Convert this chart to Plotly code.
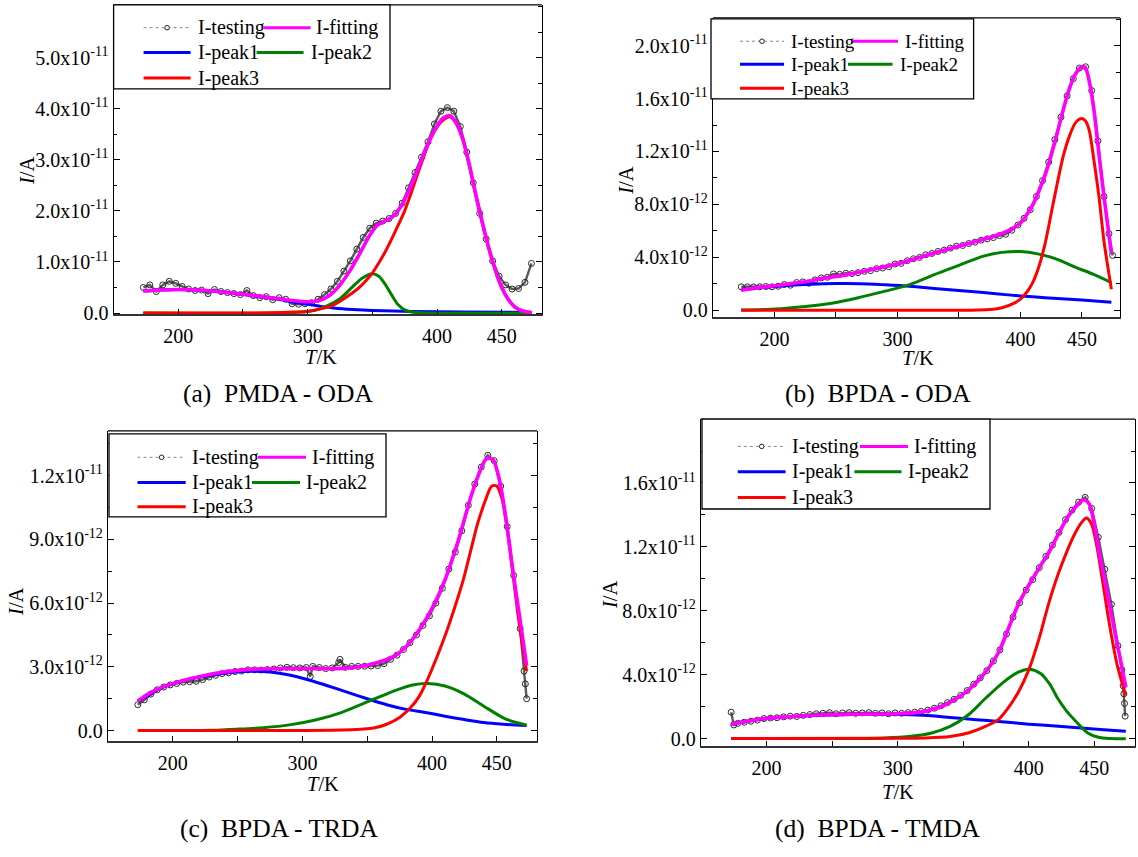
import plotly.graph_objects as go

W, H = 1138, 857
FONT = "Liberation Serif"

# ---------------- (a) PMDA - ODA  (current in units of 1e-11 A) ----------------
A_SCALE = 1e-11
A_T_TEST = [173, 178, 183, 188, 193, 198, 203, 208, 213, 218, 223, 228, 233, 238, 243, 248, 253, 258, 263, 268,
            273, 278, 283, 288, 293, 298, 303, 308, 313, 318, 323, 328, 333, 338, 343, 348, 353, 358, 363, 368,
            373, 378, 383, 388, 393, 398, 403, 408, 413, 418, 423, 428, 433, 438, 443, 448, 453, 458, 463, 468, 473]
A_TEST = [0.50, 0.55, 0.42, 0.55, 0.62, 0.58, 0.52, 0.47, 0.44, 0.45, 0.38, 0.46, 0.42, 0.40, 0.38, 0.36, 0.44, 0.34, 0.30, 0.32,
          0.26, 0.30, 0.27, 0.18, 0.17, 0.18, 0.20, 0.27, 0.36, 0.47, 0.62, 0.82, 1.02, 1.25, 1.48, 1.66, 1.76, 1.80, 1.85, 1.95,
          2.15, 2.45, 2.75, 3.05, 3.35, 3.70, 3.95, 4.02, 3.95, 3.65, 3.15, 2.55, 1.95, 1.45, 1.02, 0.72, 0.55, 0.47, 0.48, 0.60, 0.97]
A_T_FIT = [173, 185, 200, 215, 230, 245, 260, 275, 290, 300, 308, 316, 324, 332, 340, 348, 354, 360, 366, 372,
           378, 385, 392, 400, 405, 410, 415, 420, 425, 430, 435, 440, 445, 450, 455, 460, 465, 473]
A_FIT = [0.43, 0.45, 0.46, 0.45, 0.42, 0.38, 0.34, 0.29, 0.24, 0.22, 0.24, 0.33, 0.52, 0.80, 1.15, 1.52, 1.72, 1.80, 1.89, 2.08,
         2.38, 2.80, 3.25, 3.66, 3.82, 3.86, 3.72, 3.40, 2.90, 2.32, 1.78, 1.28, 0.85, 0.50, 0.27, 0.12, 0.05, 0.01]
A_T_P1 = [173, 185, 200, 215, 230, 245, 260, 275, 290, 300, 310, 320, 335, 350, 380, 420, 473]
A_P1 = [0.43, 0.45, 0.46, 0.45, 0.42, 0.38, 0.33, 0.28, 0.21, 0.17, 0.13, 0.10, 0.07, 0.05, 0.03, 0.02, 0.01]
A_T_P2 = [173, 280, 295, 305, 315, 325, 335, 342, 350, 355, 360, 365, 370, 375, 380, 390, 473]
A_P2 = [0.0, 0.0, 0.02, 0.05, 0.14, 0.28, 0.52, 0.68, 0.77, 0.72, 0.56, 0.35, 0.16, 0.06, 0.02, 0.0, 0.0]
A_T_P3 = [173, 260, 280, 290, 300, 310, 320, 328, 335, 340, 345, 350, 355, 360, 365, 370, 375, 380, 385, 390,
          395, 400, 405, 410, 415, 420, 425, 430, 435, 440, 445, 450, 455, 460, 465, 473]
A_P3 = [0.0, 0.0, 0.01, 0.02, 0.03, 0.08, 0.16, 0.28, 0.40, 0.50, 0.63, 0.78, 0.98, 1.20, 1.45, 1.72, 2.00, 2.35, 2.72, 3.08,
        3.42, 3.64, 3.78, 3.84, 3.70, 3.38, 2.88, 2.30, 1.76, 1.26, 0.84, 0.50, 0.27, 0.12, 0.05, 0.01]
A_YTICKS = [0, 1, 2, 3, 4, 5]
A_YTEXT = ["0.0", "1.0x10<sup>-11</sup>", "2.0x10<sup>-11</sup>", "3.0x10<sup>-11</sup>",
           "4.0x10<sup>-11</sup>", "5.0x10<sup>-11</sup>"]

# ---------------- (b) BPDA - ODA  (units of 1e-12 A) ----------------
B_SCALE = 1e-12
B_T_TEST = [173, 178, 183, 188, 193, 198, 203, 208, 213, 218, 223, 228, 233, 238, 243, 248, 253, 258, 263, 268,
            273, 278, 283, 288, 293, 298, 303, 308, 313, 318, 323, 328, 333, 338, 343, 348, 353, 358, 363, 368,
            373, 378, 383, 388, 393, 398, 403, 408, 413, 418, 423, 428, 433, 438, 443, 448, 453, 458, 463, 468, 472, 475]
B_TEST = [1.78, 1.78, 1.77, 1.78, 1.80, 1.78, 1.82, 1.95, 1.90, 2.10, 2.15, 2.05, 2.30, 2.45, 2.50, 2.75, 2.72, 2.80, 2.78, 2.85,
          2.95, 3.00, 3.15, 3.20, 3.30, 3.50, 3.55, 3.75, 3.90, 4.00, 4.20, 4.30, 4.45, 4.55, 4.70, 4.85, 4.90, 5.05, 5.15, 5.30,
          5.40, 5.50, 5.65, 5.75, 6.05, 6.45, 6.95, 7.60, 8.60, 9.80, 11.2, 12.9, 14.6, 16.2, 17.5, 18.3, 18.4, 16.6, 12.8, 8.6, 5.8, 4.15]
B_T_FIT = [173, 185, 200, 220, 240, 260, 280, 300, 320, 340, 360, 380, 390, 400, 405, 410, 415, 420, 425, 430,
           435, 440, 445, 450, 453, 456, 460, 464, 468, 472, 474]
B_FIT = [1.52, 1.70, 1.86, 2.10, 2.42, 2.72, 3.10, 3.52, 4.05, 4.60, 5.10, 5.65, 6.00, 6.60, 7.20, 7.95, 9.00, 10.2, 11.7, 13.4,
         15.2, 16.8, 17.9, 18.4, 18.3, 17.3, 15.0, 11.7, 8.6, 5.7, 4.3]
B_T_P1 = [173, 190, 210, 230, 250, 270, 290, 310, 330, 350, 370, 390, 410, 430, 450, 474]
B_P1 = [1.55, 1.72, 1.88, 1.98, 2.03, 2.02, 1.93, 1.82, 1.66, 1.50, 1.35, 1.17, 1.02, 0.90, 0.78, 0.62]
B_T_P2 = [173, 200, 225, 250, 270, 290, 310, 330, 350, 370, 385, 400, 415, 430, 445, 460, 474]
B_P2 = [0.02, 0.10, 0.30, 0.60, 1.00, 1.45, 1.95, 2.70, 3.40, 4.10, 4.38, 4.45, 4.25, 3.85, 3.25, 2.70, 2.10]
B_T_P3 = [173, 360, 375, 385, 395, 400, 405, 410, 415, 420, 425, 430, 435, 440, 445, 450, 453, 456, 460, 464, 468, 474]
B_P3 = [0.0, 0.01, 0.06, 0.20, 0.55, 0.85, 1.35, 2.10, 3.30, 5.00, 7.30, 9.60, 11.7, 13.2, 14.2, 14.5, 14.3, 13.6, 11.2, 8.5, 5.2, 1.6]
B_YTICKS = [0, 4, 8, 12, 16, 20]
B_YTEXT = ["0.0", "4.0x10<sup>-12</sup>", "8.0x10<sup>-12</sup>", "1.2x10<sup>-11</sup>",
           "1.6x10<sup>-11</sup>", "2.0x10<sup>-11</sup>"]

# ---------------- (c) BPDA - TRDA  (units of 1e-12 A) ----------------
C_SCALE = 1e-12
C_T_TEST = [173, 178, 183, 188, 193, 198, 203, 208, 213, 218, 223, 228, 233, 238, 243, 248, 253, 258, 263, 268,
            273, 278, 283, 288, 293, 298, 303, 306, 308, 313, 318, 323, 328, 329, 333, 338, 343, 348, 353, 358, 363, 368,
            373, 378, 383, 388, 393, 398, 403, 408, 413, 418, 423, 428, 433, 438, 443, 448, 453, 458, 463, 468, 471, 472, 473]
C_TEST = [1.22, 1.45, 1.72, 1.92, 2.05, 2.15, 2.22, 2.28, 2.30, 2.32, 2.40, 2.52, 2.60, 2.68, 2.72, 2.78, 2.80, 2.86, 2.86, 2.85,
          2.87, 2.90, 2.95, 2.98, 2.96, 2.95, 2.97, 2.55, 3.02, 2.97, 2.92, 2.95, 3.20, 3.35, 2.98, 3.02, 3.02, 3.03, 3.04, 3.06, 3.15, 3.35,
          3.55, 3.82, 4.14, 4.50, 4.95, 5.40, 6.00, 6.70, 7.60, 8.40, 9.40, 10.6, 11.6, 12.4, 12.95, 12.7, 11.5, 9.6, 7.3, 4.8, 2.8, 2.2, 1.5]
C_T_FIT = [173, 180, 190, 200, 215, 230, 245, 260, 275, 290, 305, 320, 335, 350, 360, 370, 380, 390, 400, 410,
           420, 430, 436, 442, 447, 452, 457, 462, 467, 473]
C_FIT = [1.39, 1.68, 2.00, 2.21, 2.46, 2.66, 2.80, 2.88, 2.91, 2.91, 2.91, 2.91, 2.94, 3.08, 3.24, 3.48, 3.95, 4.72, 5.75, 7.09,
         8.90, 11.0, 12.05, 12.8, 12.75, 11.8, 10.0, 7.7, 5.6, 3.06]
C_T_P1 = [173, 180, 190, 200, 215, 230, 245, 260, 275, 290, 305, 320, 335, 350, 365, 380, 395, 410, 425, 440, 455, 473]
C_P1 = [1.39, 1.62, 1.98, 2.20, 2.45, 2.62, 2.74, 2.79, 2.76, 2.62, 2.38, 2.10, 1.80, 1.50, 1.22, 1.00, 0.85, 0.68, 0.52, 0.38, 0.30, 0.24]
C_T_P2 = [173, 230, 250, 270, 290, 310, 330, 350, 370, 385, 397, 410, 425, 440, 455, 465, 473]
C_P2 = [0.0, 0.02, 0.07, 0.14, 0.27, 0.50, 0.85, 1.35, 1.85, 2.15, 2.22, 2.10, 1.72, 1.15, 0.60, 0.38, 0.26]
C_T_P3 = [173, 300, 330, 345, 355, 365, 375, 383, 390, 395, 400, 405, 410, 417, 424, 430, 435, 441, 446, 450,
          454, 458, 462, 466, 470, 473]
C_P3 = [0.0, 0.01, 0.03, 0.07, 0.12, 0.30, 0.62, 1.05, 1.60, 2.20, 2.90, 3.65, 4.45, 5.70, 7.07, 8.50, 9.70, 10.8, 11.5, 11.5,
        10.9, 9.5, 7.6, 5.6, 3.9, 2.8]
C_YTICKS = [0, 3, 6, 9, 12]
C_YTEXT = ["0.0", "3.0x10<sup>-12</sup>", "6.0x10<sup>-12</sup>", "9.0x10<sup>-12</sup>", "1.2x10<sup>-11</sup>"]

# ---------------- (d) BPDA - TMDA  (units of 1e-12 A) ----------------
D_SCALE = 1e-12
D_T_TEST = [173, 175, 178, 183, 188, 193, 198, 203, 208, 213, 218, 223, 228, 233, 238, 243, 248, 253, 258, 263, 268,
            273, 278, 283, 288, 293, 298, 303, 308, 313, 318, 323, 328, 333, 338, 343, 348, 353, 358, 363, 368,
            373, 378, 383, 388, 393, 398, 403, 408, 413, 418, 423, 428, 433, 438, 443, 448, 453, 458, 463, 468,
            471, 472, 472.5, 473, 473.5]
D_TEST = [1.65, 0.85, 0.95, 1.02, 1.08, 1.15, 1.25, 1.28, 1.30, 1.36, 1.40, 1.38, 1.45, 1.50, 1.55, 1.58, 1.62, 1.55, 1.60, 1.62, 1.58,
          1.60, 1.62, 1.58, 1.60, 1.55, 1.60, 1.58, 1.62, 1.65, 1.70, 1.78, 1.90, 2.05, 2.25, 2.45, 2.70, 3.00, 3.40, 3.80, 4.25,
          4.85, 5.55, 6.55, 7.60, 8.50, 9.30, 9.95, 10.7, 11.4, 12.1, 12.9, 13.7, 14.3, 14.8, 15.1, 14.4, 12.6, 10.6, 8.4, 5.8,
          4.3, 3.3, 2.8, 2.2, 1.4]
D_T_FIT = [173, 185, 200, 220, 240, 260, 280, 300, 315, 325, 335, 345, 355, 365, 377, 385, 392, 400, 408, 415,
           422, 430, 437, 442, 446, 450, 454, 458, 462, 466, 470, 474]
D_FIT = [0.91, 1.08, 1.27, 1.38, 1.47, 1.51, 1.53, 1.55, 1.62, 1.78, 2.05, 2.50, 3.10, 3.95, 5.40, 7.00, 8.40, 9.60, 10.7, 11.6,
         12.7, 13.9, 14.6, 14.95, 14.7, 13.4, 11.5, 9.9, 8.2, 6.5, 4.9, 3.2]
D_T_P1 = [173, 185, 200, 220, 240, 260, 280, 300, 320, 340, 360, 377, 400, 420, 440, 460, 474]
D_P1 = [0.91, 1.08, 1.26, 1.38, 1.46, 1.50, 1.52, 1.52, 1.45, 1.32, 1.18, 1.07, 0.90, 0.78, 0.66, 0.54, 0.45]
D_T_P2 = [173, 270, 290, 310, 326, 340, 354, 367, 381, 392, 400, 409, 416, 422, 429, 436, 445, 453, 462, 474]
D_P2 = [0.0, 0.0, 0.03, 0.14, 0.35, 0.76, 1.49, 2.52, 3.55, 4.15, 4.34, 4.07, 3.40, 2.52, 1.70, 1.07, 0.35, 0.08, 0.0, -0.02]
D_T_P3 = [173, 300, 320, 340, 355, 367, 377, 385, 392, 400, 408, 415, 422, 429, 435, 440, 444, 448, 452, 456,
          460, 464, 468, 474]
D_P3 = [0.0, 0.01, 0.03, 0.12, 0.38, 0.76, 1.20, 2.00, 2.90, 4.30, 6.30, 8.40, 10.2, 11.7, 12.8, 13.5, 13.8, 13.4, 12.0, 10.0,
        7.9, 6.0, 4.4, 2.7]
D_YTICKS = [0, 4, 8, 12, 16]
D_YTEXT = ["0.0", "4.0x10<sup>-12</sup>", "8.0x10<sup>-12</sup>", "1.2x10<sup>-11</sup>", "1.6x10<sup>-11</sup>"]

X_TICKS = [200, 250, 300, 350, 400, 450]
X_TEXT = ["200", "", "300", "", "400", "450"]
SERIES_NAMES = ["I-testing", "I-fitting", "I-peak1", "I-peak2", "I-peak3"]
SP2 = "\u00a0\u00a0"
CAPTIONS = ["(a)" + SP2 + "PMDA - ODA",
            "(b)" + SP2 + "BPDA - ODA",
            "(c)" + SP2 + "BPDA - TRDA",
            "(d)" + SP2 + "BPDA - TMDA"]

C_TEST_CLR = "#5a5a5a"
C_FIT_CLR = "#FF00FF"
C_P1_CLR = "#0000FF"
C_P2_CLR = "#008000"
C_P3_CLR = "#FF0000"


def fx(px):
    return px / W


def fy(py):
    return 1 - py / H


panels = [
    dict(scale=A_SCALE, test=(A_T_TEST, A_TEST), fit=(A_T_FIT, A_FIT), p1=(A_T_P1, A_P1), p2=(A_T_P2, A_P2),
         p3=(A_T_P3, A_P3), yt=A_YTICKS, ytext=A_YTEXT, minor=0.5, yr=(-0.025, 6.03),
         box=(113.6, 5, 541.8, 318), xtitle=(321, 361), ytitle=(27, 173), cap=(278.3, 398),
         leg=dict(L=113.6, T=5, R=390, B=90, rows=[28, 53, 79], c1=(30, 77, 82), fit=(150, 197, 200),
                  p2=(143, 190, 195), fs=20)),
    dict(scale=B_SCALE, test=(B_T_TEST, B_TEST), fit=(B_T_FIT, B_FIT), p1=(B_T_P1, B_P1), p2=(B_T_P2, B_P2),
         p3=(B_T_P3, B_P3), yt=B_YTICKS, ytext=B_YTEXT, minor=2, yr=(-0.52, 22.1),
         box=(713, 18, 1120, 321), xtitle=(918, 362), ytitle=(626, 183), cap=(878, 398),
         leg=dict(L=711, T=19, R=973.6, B=100, rows=[41.7, 65, 89.3], c1=(29, 73, 78), fit=(141.6, 187, 191.6),
                  p2=(137, 181.5, 187), fs=19)),
    dict(scale=C_SCALE, test=(C_T_TEST, C_TEST), fit=(C_T_FIT, C_FIT), p1=(C_T_P1, C_P1), p2=(C_T_P2, C_P2),
         p3=(C_T_P3, C_P3), yt=C_YTICKS, ytext=C_YTEXT, minor=1.5, yr=(-0.5, 14.1),
         box=(108, 436, 537, 750), xtitle=(323, 793), ytitle=(16, 608), cap=(278.6, 838),
         leg=dict(L=109, T=439, R=386, B=523, rows=[462.7, 488.3, 512.7], c1=(28.5, 76.7, 81), fit=(149, 197, 201),
                  p2=(143, 191, 195), fs=20)),
    dict(scale=D_SCALE, test=(D_T_TEST, D_TEST), fit=(D_T_FIT, D_FIT), p1=(D_T_P1, D_P1), p2=(D_T_P2, D_P2),
         p3=(D_T_P3, D_P3), yt=D_YTICKS, ytext=D_YTEXT, minor=2, yr=(-0.48, 20.0),
         box=(701, 424, 1135, 755), xtitle=(898, 801), ytitle=(610, 602), cap=(878, 838),
         leg=dict(L=702, T=424, R=990, B=515, rows=[451.7, 477.3, 503.3], c1=(35.8, 83.6, 88.3), fit=(158, 206, 210),
                  p2=(152.4, 199.5, 204), fs=20)),
]

fig = go.Figure()
shapes = []
annotations = []

for i, p in enumerate(panels):
    n = "" if i == 0 else str(i + 1)
    xa, ya = "x" + n, "y" + n
    s = p["scale"]

    def sc(vals):
        return [v * s for v in vals]

    t, v = p["test"]
    fig.add_trace(go.Scatter(x=t, y=sc(v), mode="lines+markers", name=SERIES_NAMES[0], xaxis=xa, yaxis=ya,
                             line=dict(color=C_TEST_CLR, width=2.4),
                             marker=dict(symbol="circle-open", size=6, color="#2a2a2a", line=dict(width=1)),
                             showlegend=False))
    for key, clr, wdt, nm in [("p1", C_P1_CLR, 3, SERIES_NAMES[2]), ("p2", C_P2_CLR, 3, SERIES_NAMES[3]),
                              ("p3", C_P3_CLR, 3, SERIES_NAMES[4]), ("fit", C_FIT_CLR, 3.6, SERIES_NAMES[1])]:
        t, v = p[key]
        fig.add_trace(go.Scatter(x=t, y=sc(v), mode="lines", name=nm, xaxis=xa, yaxis=ya,
                                 line=dict(color=clr, width=wdt, shape="spline", smoothing=0.8),
                                 showlegend=False))

    L, T, R, B = p["box"]
    tickfont = dict(family=FONT, size=20, color="black")
    fig.layout["xaxis" + n] = dict(domain=[fx(L), fx(R)], range=[150, 481], anchor=ya,
                                   showline=True, linecolor="#333333", linewidth=2.4, mirror=False,
                                   ticks="inside", tickcolor="black", ticklen=5, tickwidth=1.2,
                                   showgrid=False, zeroline=False, tickfont=tickfont, ticklabelstandoff=3,
                                   tickmode="array", tickvals=X_TICKS, ticktext=X_TEXT)
    fig.layout["yaxis" + n] = dict(domain=[fy(B), fy(T)], anchor=xa,
                                   showline=True, linecolor="black", linewidth=1.3, mirror="allticks",
                                   ticks="inside", tickcolor="black", ticklen=6, tickwidth=1.2,
                                   showgrid=False, zeroline=False, tickfont=tickfont,
                                   range=[p["yr"][0] * s, p["yr"][1] * s],
                                   tickmode="array", tickvals=sc(p["yt"]), ticktext=p["ytext"],
                                   minor=dict(tickmode="linear", tick0=0, dtick=p["minor"] * s,
                                              ticks="inside", ticklen=3.5, tickcolor="black"))
    # thin top border of the frame
    shapes.append(dict(type="line", xref="paper", yref="paper", x0=fx(L), x1=fx(R), y0=fy(T), y1=fy(T),
                       line=dict(color="black", width=1.3), layer="above"))

    # axis titles and caption
    annotations.append(dict(x=fx(p["xtitle"][0]), y=fy(p["xtitle"][1]), xref="paper", yref="paper",
                            text="<i>T</i>/K", showarrow=False, xanchor="center", yanchor="middle",
                            font=dict(family=FONT, size=20.5, color="black")))
    annotations.append(dict(x=fx(p["ytitle"][0]), y=fy(p["ytitle"][1]), xref="paper", yref="paper",
                            text="<i>I</i>/A", showarrow=False, xanchor="center", yanchor="middle", textangle=-90,
                            font=dict(family=FONT, size=20.5, color="black")))
    annotations.append(dict(x=fx(p["cap"][0]), y=fy(p["cap"][1]), xref="paper", yref="paper",
                            text=CAPTIONS[i], showarrow=False, xanchor="center", yanchor="middle",
                            font=dict(family=FONT, size=25.5, color="black")))

    # legend box (drawn manually: two columns like the original)
    lg = p["leg"]
    Ll = lg["L"]
    shapes.append(dict(type="rect", xref="paper", yref="paper", x0=fx(Ll), x1=fx(lg["R"]), y0=fy(lg["B"]),
                       y1=fy(lg["T"]), line=dict(color="black", width=1.3), fillcolor="white", layer="above"))
    items = [
        (lg["c1"], lg["rows"][0], SERIES_NAMES[0], None),
        (lg["fit"], lg["rows"][0], SERIES_NAMES[1], C_FIT_CLR),
        (lg["c1"], lg["rows"][1], SERIES_NAMES[2], C_P1_CLR),
        (lg["p2"], lg["rows"][1], SERIES_NAMES[3], C_P2_CLR),
        (lg["c1"], lg["rows"][2], SERIES_NAMES[4], C_P3_CLR),
    ]
    for (x0, x1, xt), yy, name, clr in items:
        if clr is None:
            shapes.append(dict(type="line", xref="paper", yref="paper", x0=fx(Ll + x0), x1=fx(Ll + x1),
                               y0=fy(yy), y1=fy(yy), line=dict(color="#888888", width=1, dash="dot"), layer="above"))
            cx = Ll + (x0 + x1) / 2
            shapes.append(dict(type="circle", xref="paper", yref="paper", x0=fx(cx - 2.3), x1=fx(cx + 2.3),
                               y0=fy(yy + 2.3), y1=fy(yy - 2.3), line=dict(color="#222222", width=1),
                               fillcolor="white", layer="above"))
        else:
            shapes.append(dict(type="line", xref="paper", yref="paper", x0=fx(Ll + x0), x1=fx(Ll + x1),
                               y0=fy(yy), y1=fy(yy), line=dict(color=clr, width=3), layer="above"))
        annotations.append(dict(x=fx(Ll + xt), y=fy(yy), xref="paper", yref="paper", text=name, showarrow=False,
                                xanchor="left", yanchor="middle",
                                font=dict(family=FONT, size=lg["fs"], color="black")))

fig.update_layout(width=W, height=H, autosize=False, margin=dict(l=0, r=0, t=0, b=0),
                  paper_bgcolor="white", plot_bgcolor="white", showlegend=False,
                  font=dict(family=FONT, color="black"), shapes=shapes, annotations=annotations)

fig.write_html("out.html")
